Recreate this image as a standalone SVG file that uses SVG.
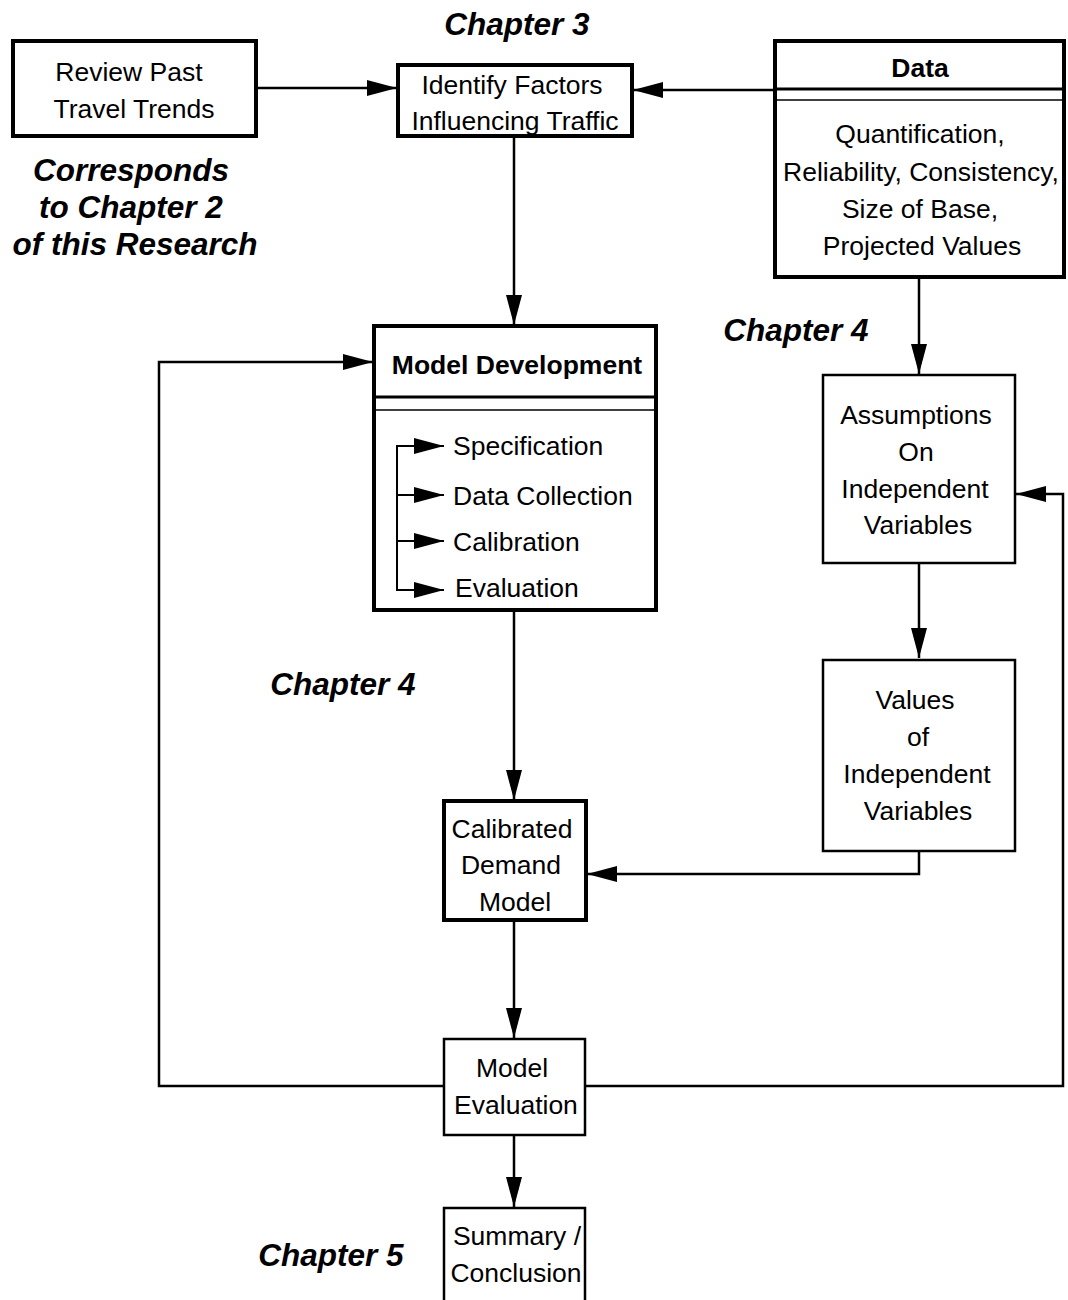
<svg xmlns="http://www.w3.org/2000/svg" width="1068" height="1300" viewBox="0 0 1068 1300">
<style>
.t{font-family:"Liberation Sans",Arial,sans-serif;font-size:26.5px;fill:#000;text-anchor:middle}
.b{font-weight:bold}
.c{font-family:"Liberation Sans",Arial,sans-serif;font-size:31.5px;font-weight:bold;font-style:italic;fill:#000;text-anchor:middle}
.thick{fill:#fff;stroke:#000;stroke-width:4}
.thin{fill:#fff;stroke:#000;stroke-width:2.5}
.ln{fill:none;stroke:#000;stroke-width:2.5}
</style>
<defs>
<marker id="ah" markerWidth="30" markerHeight="18" refX="30" refY="9" orient="auto" markerUnits="userSpaceOnUse">
<path d="M0,1 L30,9 L0,17 Z" fill="#000"/>
</marker>
</defs>
<rect width="1068" height="1300" fill="#fff"/>
<g id="labels">
<text class="c" x="517" y="35">Chapter 3</text>
<text class="c" x="131" y="181">Corresponds</text>
<text class="c" x="131" y="218">to Chapter 2</text>
<text class="c" x="135" y="255">of this Research</text>
<text class="c" x="796" y="341">Chapter 4</text>
<text class="c" x="343" y="695">Chapter 4</text>
<text class="c" x="331" y="1266">Chapter 5</text>
</g>
<g id="connectors">
<line class="ln" x1="257" y1="88" x2="397" y2="88" marker-end="url(#ah)"/>
<line class="ln" x1="774" y1="90" x2="633" y2="90" marker-end="url(#ah)"/>
<line class="ln" x1="514" y1="137" x2="514" y2="325" marker-end="url(#ah)"/>
<line class="ln" x1="919" y1="278" x2="919" y2="374" marker-end="url(#ah)"/>
<line class="ln" x1="919" y1="563" x2="919" y2="658" marker-end="url(#ah)"/>
<polyline class="ln" points="919,851 919,874 587,874" marker-end="url(#ah)"/>
<line class="ln" x1="514" y1="611" x2="514" y2="800" marker-end="url(#ah)"/>
<line class="ln" x1="514" y1="921" x2="514" y2="1038" marker-end="url(#ah)"/>
<line class="ln" x1="514" y1="1135" x2="514" y2="1207" marker-end="url(#ah)"/>
<polyline class="ln" points="443,1086 159,1086 159,362 373,362" marker-end="url(#ah)"/>
<polyline class="ln" points="585,1086 1063,1086 1063,494 1016,494" marker-end="url(#ah)"/>
</g>
<g id="review">
<rect class="thick" x="13" y="41" width="243" height="95"/>
<text class="t" x="129" y="81">Review Past</text>
<text class="t" x="134" y="118">Travel Trends</text>
</g>
<g id="identify">
<rect class="thick" x="398" y="65" width="234" height="71" stroke-width="3"/>
<text class="t" x="512" y="94">Identify Factors</text>
<text class="t" x="515" y="130">Influencing Traffic</text>
</g>
<g id="data">
<rect class="thick" x="775" y="41" width="289" height="236"/>
<line x1="775" y1="89" x2="1064" y2="89" stroke="#000" stroke-width="3"/>
<line x1="775" y1="100" x2="1064" y2="100" stroke="#000" stroke-width="1.5"/>
<text class="t b" x="920" y="77">Data</text>
<text class="t" x="920" y="143">Quantification,</text>
<text class="t" x="921" y="181">Reliability, Consistency,</text>
<text class="t" x="920" y="218">Size of Base,</text>
<text class="t" x="922" y="255">Projected Values</text>
</g>
<g id="modeldev">
<rect class="thick" x="374" y="326" width="282" height="284"/>
<line x1="374" y1="397" x2="656" y2="397" stroke="#000" stroke-width="3"/>
<line x1="374" y1="410" x2="656" y2="410" stroke="#000" stroke-width="1.5"/>
<text class="t b" x="517" y="374">Model Development</text>
<polyline fill="none" stroke="#000" stroke-width="2" points="444,446 397,446 397,590 444,590"/>
<line x1="397" y1="495" x2="444" y2="495" stroke="#000" stroke-width="2" marker-end="url(#ah)"/>
<line x1="397" y1="541" x2="444" y2="541" stroke="#000" stroke-width="2" marker-end="url(#ah)"/>
<line x1="414" y1="446" x2="444" y2="446" stroke="#000" stroke-width="2" marker-end="url(#ah)"/>
<line x1="414" y1="590" x2="444" y2="590" stroke="#000" stroke-width="2" marker-end="url(#ah)"/>
<text class="t" x="453" y="455" style="text-anchor:start">Specification</text>
<text class="t" x="453" y="505" style="text-anchor:start">Data Collection</text>
<text class="t" x="453" y="551" style="text-anchor:start">Calibration</text>
<text class="t" x="455" y="597" style="text-anchor:start">Evaluation</text>
</g>
<g id="assumptions">
<rect class="thin" x="823" y="375" width="192" height="188"/>
<text class="t" x="916" y="424">Assumptions</text>
<text class="t" x="916" y="461">On</text>
<text class="t" x="915" y="498">Independent</text>
<text class="t" x="918" y="534">Variables</text>
</g>
<g id="values">
<rect class="thin" x="823" y="660" width="192" height="191"/>
<text class="t" x="915" y="709">Values</text>
<text class="t" x="918" y="746">of</text>
<text class="t" x="917" y="783">Independent</text>
<text class="t" x="918" y="820">Variables</text>
</g>
<g id="calibrated">
<rect class="thick" x="444" y="801" width="142" height="119"/>
<text class="t" x="512" y="838">Calibrated</text>
<text class="t" x="511" y="874">Demand</text>
<text class="t" x="515" y="911">Model</text>
</g>
<g id="modeleval">
<rect class="thin" x="444" y="1039" width="141" height="96"/>
<text class="t" x="512" y="1077">Model</text>
<text class="t" x="516" y="1114">Evaluation</text>
</g>
<g id="summary">
<path d="M444,1300 L444,1208 L585,1208 L585,1300" class="thin"/>
<text class="t" x="517" y="1245">Summary /</text>
<text class="t" x="516" y="1282">Conclusion</text>
</g>
</svg>
